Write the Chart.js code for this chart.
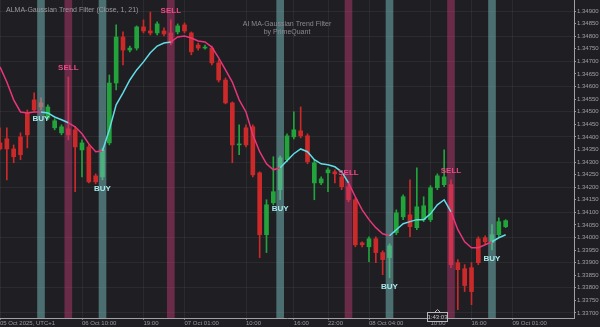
<!DOCTYPE html>
<html>
<head>
<meta charset="utf-8">
<script src="https://cdn.jsdelivr.net/npm/chart.js@4.4.1/dist/chart.umd.min.js"></script>
<style>
  html, body { margin:0; padding:0; background:#1e1e23; }
  #wrap { width:600px; height:327px; position:relative; }
</style>
</head>
<body>
<div id="wrap"><canvas id="grafico"></canvas></div>
<script>
// velas de 1h (índice = posição da vela)
const opens = [1.34376,1.34392,1.34352,1.34400,1.34495,1.34547,1.34535,1.34475,1.34436,1.34416,
  1.34432,1.34428,1.34348,1.34360,1.34245,1.34241,1.34376,1.34614,1.34797,1.34745,
  1.34753,1.34837,1.34821,1.34813,1.34821,1.34813,1.34817,1.34845,1.34813,1.34765,
  1.34753,1.34753,1.34694,1.34626,1.34535,1.34368,1.34436,1.34440,1.34257,1.34011,
  1.34138,1.34190,1.34309,1.34400,1.34424,1.34404,1.34217,1.34217,1.34257,1.34261,
  1.34241,1.34202,1.34150,1.33979,1.33963,1.33995,1.33940,1.33920,1.34019,1.34082,
  1.34090,1.34039,1.34071,1.34071,1.34198,1.34210,1.34210,1.33900,1.33876,1.33880,
  1.33995,1.33999,1.33979,1.34011,1.34043];
const highs = [1.34436,1.34436,1.34368,1.34416,1.34507,1.34575,1.34555,1.34527,1.34472,1.34448,
  1.34638,1.34440,1.34388,1.34368,1.34253,1.34356,1.34646,1.34845,1.34817,1.34761,
  1.34841,1.34865,1.34896,1.34857,1.34833,1.34865,1.34849,1.34853,1.34817,1.34773,
  1.34765,1.34761,1.34706,1.34634,1.34539,1.34448,1.34448,1.34448,1.34261,1.34150,
  1.34321,1.34325,1.34412,1.34499,1.34519,1.34412,1.34309,1.34241,1.34277,1.34269,
  1.34249,1.34221,1.34158,1.33983,1.34003,1.34003,1.33947,1.33975,1.34110,1.34170,
  1.34229,1.34277,1.34162,1.34206,1.34253,1.34348,1.34229,1.33912,1.33892,1.33900,
  1.34003,1.34007,1.34051,1.34078,1.34071];
const lows = [1.34348,1.34229,1.34297,1.34309,1.34356,1.34499,1.34507,1.34468,1.34428,1.34408,
  1.34388,1.34182,1.34241,1.34217,1.34213,1.34229,1.34368,1.34587,1.34686,1.34738,
  1.34745,1.34813,1.34805,1.34805,1.34801,1.34765,1.34809,1.34813,1.34726,1.34745,
  1.34749,1.34686,1.34618,1.34531,1.34297,1.34329,1.34360,1.34241,1.33920,1.33940,
  1.34130,1.34150,1.34301,1.34392,1.34396,1.34293,1.34150,1.34210,1.34182,1.34217,
  1.34190,1.34142,1.33963,1.33963,1.33904,1.33900,1.33852,1.33840,1.34011,1.34071,
  1.34003,1.34031,1.34063,1.34063,1.34190,1.34202,1.33880,1.33713,1.33785,1.33733,
  1.33892,1.33975,1.33951,1.34003,1.34039];
const closes = [1.34352,1.34352,1.34321,1.34329,1.34408,1.34507,1.34519,1.34519,1.34464,1.34440,
  1.34408,1.34360,1.34376,1.34221,1.34221,1.34348,1.34614,1.34797,1.34745,1.34753,
  1.34837,1.34821,1.34813,1.34849,1.34809,1.34773,1.34841,1.34821,1.34738,1.34753,
  1.34757,1.34694,1.34626,1.34535,1.34368,1.34372,1.34368,1.34249,1.34011,1.34130,
  1.34182,1.34317,1.34404,1.34428,1.34404,1.34301,1.34297,1.34233,1.34269,1.34253,
  1.34202,1.34150,1.33971,1.33971,1.33995,1.33940,1.33912,1.33967,1.34098,1.34162,
  1.34043,1.34122,1.34126,1.34198,1.34245,1.34241,1.33892,1.33872,1.33809,1.33785,
  1.33900,1.33983,1.34011,1.34063,1.34067];
// linha ALMA
const alma = [1.34678,1.34618,1.34547,1.34499,1.34495,1.34499,1.34499,1.34495,1.34479,1.34468,
  1.34456,1.34440,1.34412,1.34372,1.34341,1.34344,1.34428,1.34527,1.34575,1.34626,
  1.34666,1.34698,1.34734,1.34761,1.34773,1.34777,1.34797,1.34801,1.34793,1.34781,
  1.34777,1.34757,1.34714,1.34666,1.34618,1.34547,1.34499,1.34408,1.34341,1.34293,
  1.34269,1.34277,1.34305,1.34333,1.34352,1.34341,1.34309,1.34293,1.34289,1.34281,
  1.34261,1.34217,1.34162,1.34110,1.34071,1.34039,1.34015,1.34007,1.34031,1.34055,
  1.34063,1.34071,1.34071,1.34094,1.34130,1.34150,1.34102,1.34031,1.33983,1.33959,
  1.33959,1.33971,1.33983,1.33999,1.34011];
// sinais
const buyIdx = [6, 15, 41, 57, 72];
const sellIdx = [10, 25, 51, 66];
// eixos
const yTicks = [1.33700,1.33750,1.33800,1.33850,1.33900,1.33950,1.34000,1.34050,1.34100,1.34150,
  1.34200,1.34250,1.34300,1.34350,1.34400,1.34450,1.34500,1.34550,1.34600,1.34650,
  1.34700,1.34750,1.34800,1.34850,1.34900];
const xTickIdx = [0, 12, 21, 27, 36, 43, 48, 54, 63, 69, 75];
const xTickLabels = ['05 Oct 2025, UTC+1','06 Oct 10:00','19:00','07 Oct 01:00','10:00','16:00',
  '22:00','08 Oct 04:00','10:00','16:00','09 Oct 01:00'];
const countdown = '1:43:03';

const yMin = 1.33680, yMax = 1.34944;
const verde = '#22a33c', vermelho = '#cc2a2a';
const rosa = '#e8357a', ciano = '#62dde6';

const corVela = closes.map((c, i) => c >= opens[i] ? verde : vermelho);
const trendUp = [];
let up = false;
for (let i = 0; i < alma.length; i++) {
  if (buyIdx.includes(i)) up = true;
  if (sellIdx.includes(i)) up = false;
  trendUp.push(up);
}

const semPadding = s => { s.paddingLeft = 0; s.paddingRight = 0; s.paddingTop = 0; s.paddingBottom = 0; };

const textos = {
  id: 'textos',
  afterDatasetsDraw(chart) {
    const {ctx, chartArea, scales: {x, y}} = chart;
    ctx.save();
    ctx.textAlign = 'center';
    ctx.textBaseline = 'middle';
    ctx.font = 'bold 8px "Liberation Sans", Arial, sans-serif';
    ctx.fillStyle = '#a9e8ea';
    buyIdx.forEach(i => ctx.fillText('BUY', x.getPixelForValue(i), y.getPixelForValue(lows[i]) + 9));
    ctx.fillStyle = '#ec4b86';
    sellIdx.forEach(i => ctx.fillText('SELL', x.getPixelForValue(i), y.getPixelForValue(highs[i]) - 9));
    ctx.font = '7px "Liberation Sans", Arial, sans-serif';
    ctx.fillStyle = '#8a8a8e';
    const cx = (chartArea.left + chartArea.right) / 2;
    ctx.fillText('AI MA-Gaussian Trend Filter', cx, 24.5);
    ctx.fillText('by PrimeQuant', cx, 32.5);
    ctx.textAlign = 'left';
    ctx.fillStyle = '#9a9a9e';
    ctx.fillText('ALMA-Gaussian Trend Filter (Close, 1, 21)', 6, 10);
    ctx.restore();
  },
  afterDraw(chart) {
    // caixa do contador na escala de tempo
    const {ctx, chartArea, scales: {x}} = chart;
    const px = Math.round(x.getPixelForValue(64));
    const top = chartArea.bottom;
    ctx.save();
    ctx.fillStyle = '#1e1e23';
    ctx.fillRect(px - 10, top - 5, 21, 9);
    ctx.strokeStyle = '#b8b8bc';
    ctx.lineWidth = 1;
    ctx.strokeRect(px - 9.5, top - 5.5, 20, 9);
    ctx.beginPath();
    ctx.moveTo(px - 2.5, top - 5.5); ctx.lineTo(px + 0.5, top - 8.5); ctx.lineTo(px + 3.5, top - 5.5);
    ctx.stroke();
    ctx.fillStyle = '#c8c8cc';
    ctx.font = '6px "Liberation Sans", Arial, sans-serif';
    ctx.textAlign = 'center'; ctx.textBaseline = 'middle';
    ctx.fillText(countdown, px + 0.5, top - 1);
    ctx.restore();
  }
};

const ctxVelas = document.getElementById('grafico').getContext('2d');
const grafico = new Chart(ctxVelas, {
  data: {
    datasets: [
      {
        type: 'line',
        data: alma.map((v, i) => ({x: i, y: v})),
        borderWidth: 1.5,
        pointRadius: 0,
        borderColor: rosa,
        segment: { borderColor: c => trendUp[c.p0DataIndex] ? ciano : rosa },
        order: 0
      },
      {
        type: 'bar',
        data: buyIdx.map(i => ({x: i, y: [yMin, yMax]})),
        backgroundColor: 'rgba(120,190,190,0.5)',
        barThickness: 7, grouped: false, order: 1
      },
      {
        type: 'bar',
        data: sellIdx.map(i => ({x: i, y: [yMin, yMax]})),
        backgroundColor: 'rgba(200,60,120,0.45)',
        barThickness: 7, grouped: false, order: 1
      },
      {
        type: 'bar',
        data: opens.map((o, i) => ({x: i, y: [o, closes[i]]})),
        backgroundColor: corVela,
        barThickness: 4, minBarLength: 1, grouped: false, order: 2
      },
      {
        type: 'bar',
        data: highs.map((h, i) => ({x: i, y: [lows[i], h]})),
        backgroundColor: corVela,
        barThickness: 1, grouped: false, order: 3
      }
    ]
  },
  options: {
    responsive: true,
    maintainAspectRatio: false,
    animation: false,
    layout: { padding: 0 },
    plugins: { legend: { display: false }, tooltip: { enabled: false } },
    scales: {
      x: {
        type: 'linear', min: 0, max: 84, offset: false,
        afterBuildTicks: s => { s.ticks = xTickIdx.map(v => ({value: v})); },
        afterFit: s => { s.height = 9; semPadding(s); },
        grid: { offset: false, color: 'rgba(255,255,255,0.06)', tickLength: 2, tickColor: '#777' },
        border: { color: '#a0a0a4' },
        ticks: {
          color: '#9a9a9e', font: { size: 6, family: '"Liberation Sans", Arial' },
          padding: 0, autoSkip: false, maxRotation: 0, align: 'start',
          callback: (v, i) => xTickLabels[i]
        }
      },
      y: {
        position: 'right', min: yMin, max: yMax,
        afterBuildTicks: s => { s.ticks = yTicks.map(v => ({value: v})); },
        afterFit: s => { s.width = 26; semPadding(s); },
        grid: { color: c => c.index % 2 === 0 ? 'rgba(255,255,255,0.06)' : 'rgba(0,0,0,0)', tickLength: 2, tickColor: '#9a9a9e' },
        border: { color: '#a0a0a4' },
        ticks: {
          color: '#a0a0a4', font: { size: 6, family: '"Liberation Sans", Arial' },
          padding: 1, callback: v => v.toFixed(5)
        }
      }
    }
  },
  plugins: [textos]
});
</script>
</body>
</html>
